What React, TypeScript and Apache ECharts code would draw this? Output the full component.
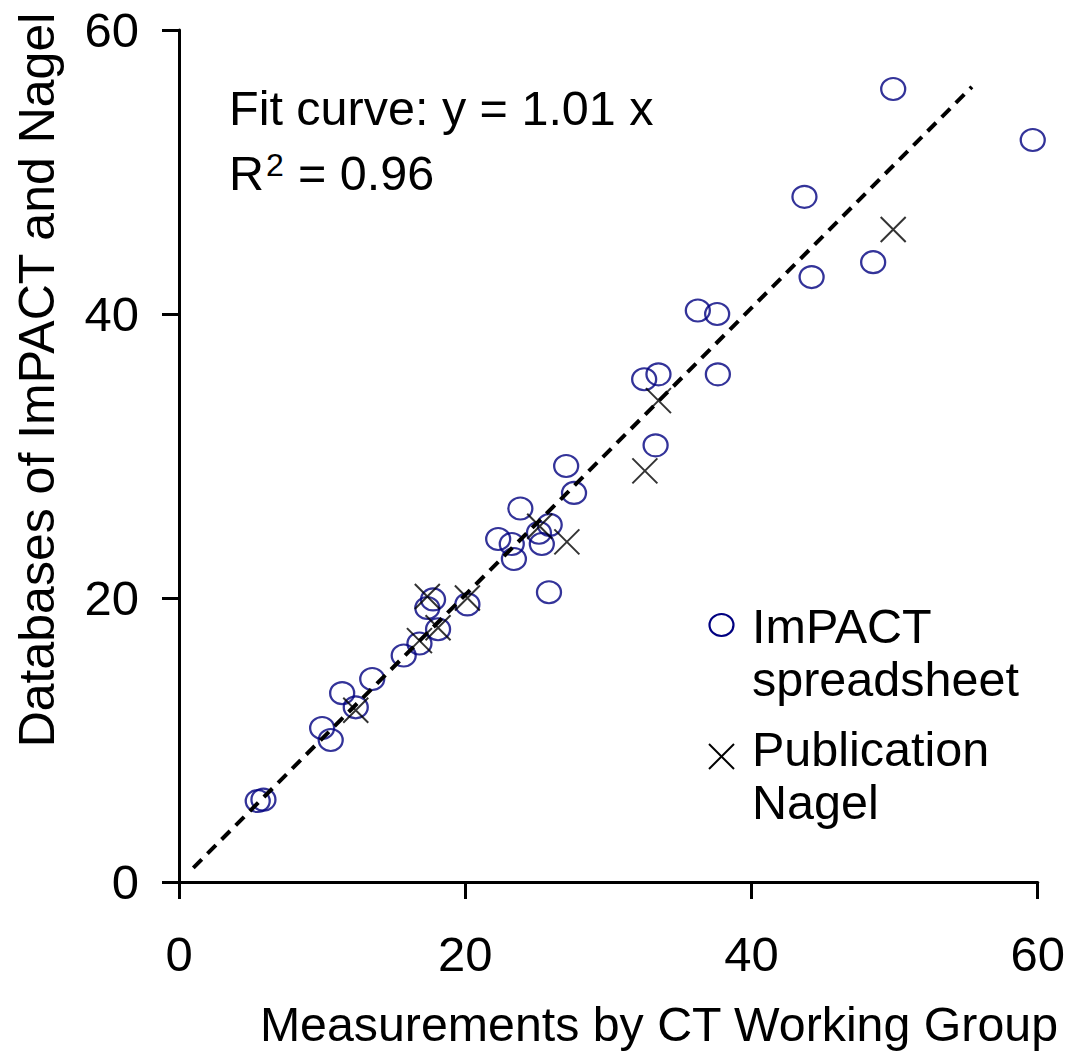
import React, { useEffect, useRef } from "react";
import * as echarts from "echarts";

const axisTicks = [0, 20, 40, 60];

const impactX = [5.5, 5.9, 10.0, 10.6, 11.4, 12.35, 13.5, 15.7, 16.8, 17.35, 17.75, 18.1, 20.15, 22.3, 23.25, 23.4, 23.85, 25.15, 25.35, 25.9, 25.85, 27.05, 27.6, 32.5, 33.5, 33.3, 36.25, 37.6, 37.65, 43.7, 44.2, 48.5, 49.9, 59.65];
const impactY = [5.7, 5.8, 10.85, 10.0, 13.3, 12.3, 14.3, 15.95, 16.8, 19.3, 19.9, 17.8, 19.55, 24.15, 23.8, 22.75, 26.3, 24.6, 23.8, 25.15, 20.4, 29.3, 27.4, 35.4, 35.75, 30.75, 40.25, 40.0, 35.75, 48.25, 42.6, 43.65, 55.85, 52.25];

const nagelX = [12.35, 16.8, 17.35, 18.1, 20.15, 25.2, 27.1, 32.55, 33.5, 49.9];
const nagelY = [12.1, 17.0, 20.1, 17.9, 20.0, 25.05, 23.95, 28.95, 33.9, 45.95];

const fitX = [1.0, 55.4];
const fitY = [1.0, 56.0];

const seriesNames = ["ImPACT spreadsheet", "Publication Nagel"];

const FONT = "'Liberation Sans', Arial, sans-serif";
const NAVY = "#000080";

const ELLIPSE =
  "path://M50,0 C77.6,0 100,22.4 100,50 C100,77.6 77.6,100 50,100 C22.4,100 0,77.6 0,50 C0,22.4 22.4,0 50,0 Z";
const CROSS = "path://M0,0 L100,100 M100,0 L0,100";

export default function App() {
  const ref = useRef<HTMLDivElement>(null);
  useEffect(() => {
    document.body.style.margin = "0";
    const chart = echarts.init(ref.current!, null, { renderer: "svg" });
    const txt = (text: string, x: number, y: number, extra: any = {}) => ({
      type: "text",
      x,
      y,
      silent: true,
      ...(extra.rotation !== undefined ? { rotation: extra.rotation } : {}),
      style: {
        text,
        fill: "#000",
        fontSize: extra.fontSize || 48.5,
        fontFamily: FONT,
        align: extra.align || "left",
        verticalAlign: "middle",
        textAlign: extra.align || "left",
        textVerticalAlign: "middle",
        lineHeight: extra.lineHeight,
      },
    });
    const option: any = {
      animation: false,
      backgroundColor: "#fff",
      grid: { left: 179, right: 29, top: 30, bottom: 169, containLabel: false },
      xAxis: {
        type: "value",
        min: axisTicks[0],
        max: axisTicks[axisTicks.length - 1],
        interval: axisTicks[1] - axisTicks[0],
        axisLine: { show: true, onZero: false, lineStyle: { color: "#000", width: 3 } },
        axisTick: { show: true, inside: false, length: 17, lineStyle: { color: "#000", width: 3 } },
        splitLine: { show: false },
        axisLabel: { fontSize: 49, color: "#000", fontFamily: FONT, margin: 47 },
      },
      yAxis: {
        type: "value",
        min: axisTicks[0],
        max: axisTicks[axisTicks.length - 1],
        interval: axisTicks[1] - axisTicks[0],
        axisLine: { show: true, onZero: false, lineStyle: { color: "#000", width: 3 } },
        axisTick: { show: true, inside: false, length: 17, lineStyle: { color: "#000", width: 3 } },
        splitLine: { show: false },
        axisLabel: { fontSize: 49, color: "#000", fontFamily: FONT, margin: 40 },
      },
      series: [
        {
          name: seriesNames[0],
          type: "scatter",
          symbol: ELLIPSE,
          symbolSize: [24, 22],
          itemStyle: { color: "transparent", borderColor: NAVY, borderWidth: 2.2 },
          data: impactX.map((x, i) => [x, impactY[i]]),
          z: 2,
        },
        {
          name: seriesNames[1],
          type: "scatter",
          symbol: CROSS,
          symbolSize: [25, 25],
          itemStyle: { color: "transparent", borderColor: "#000", borderWidth: 2 },
          data: nagelX.map((x, i) => [x, nagelY[i]]),
          z: 3,
        },
        {
          name: "fit",
          type: "line",
          showSymbol: false,
          symbol: "none",
          lineStyle: { color: "#000", width: 4, type: [12, 8] },
          data: fitX.map((x, i) => [x, fitY[i]]),
          z: 4,
        },
      ],
      graphic: [
        txt("Fit curve: y = 1.01 x", 229, 108),
        txt("R", 229, 173),
        txt("2", 266, 165, { fontSize: 32 }),
        txt("= 0.96", 298, 173),
        {
          type: "ellipse",
          shape: { cx: 721.5, cy: 625, rx: 12, ry: 11 },
          style: { fill: "none", stroke: NAVY, lineWidth: 2.2 },
        },
        txt("ImPACT\nspreadsheet", 752, 652, { lineHeight: 53 }),
        {
          type: "line",
          shape: { x1: 709, y1: 744, x2: 734, y2: 769 },
          style: { stroke: "#000", lineWidth: 2 },
        },
        {
          type: "line",
          shape: { x1: 734, y1: 744, x2: 709, y2: 769 },
          style: { stroke: "#000", lineWidth: 2 },
        },
        txt("Publication\nNagel", 752, 775, { lineHeight: 53 }),
        txt("Measurements by CT Working Group", 1058, 1024, { align: "right", fontSize: 48.3 }),
        txt("Databases of ImPACT and Nagel", 37, 380, { align: "center", rotation: Math.PI / 2, fontSize: 50 }),
      ],
    };
    chart.setOption(option);
    return () => chart.dispose();
  }, []);
  return <div ref={ref} style={{ width: 1068, height: 1051 }} />;
}
